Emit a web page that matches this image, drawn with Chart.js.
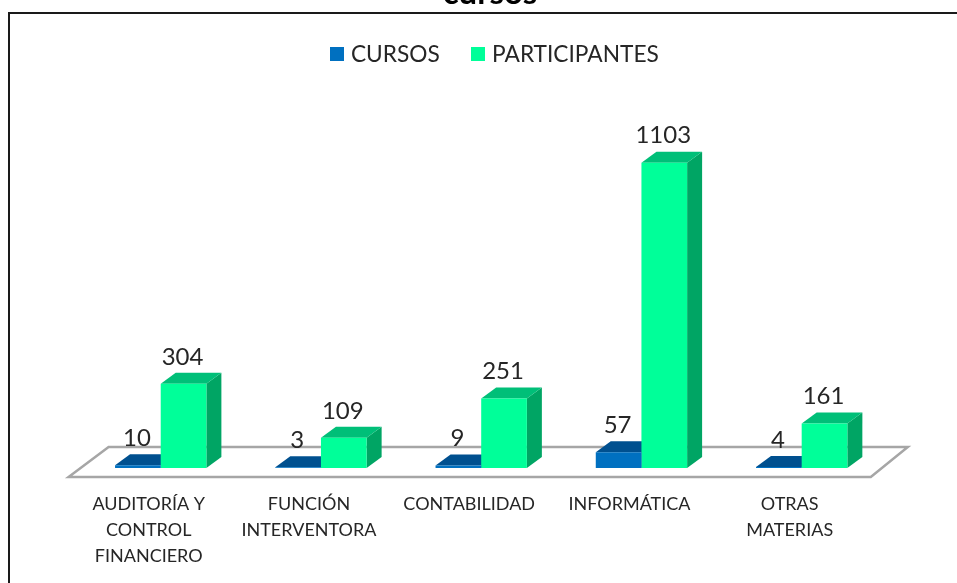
<!DOCTYPE html>
<html>
<head>
<meta charset="utf-8">
<script src="https://cdn.jsdelivr.net/npm/chart.js@4"></script>
<style>
  html, body { margin: 0; padding: 0; background: #fff; overflow: hidden; }
  canvas { display: block; }
</style>
</head>
<body>
<canvas id="myChart" width="957" height="583"></canvas>
<script>
const categories = [
    ['AUDITORÍA Y', 'CONTROL', 'FINANCIERO'],
    ['FUNCIÓN', 'INTERVENTORA'],
    'CONTABILIDAD',
    'INFORMÁTICA',
    ['OTRAS', 'MATERIAS']
];
const cursos = [10, 3, 9, 57, 4];
const participantes = [304, 109, 251, 1103, 161];
const titleText = 'cursos';

const textColor = '#262626';
const blue = '#0070c0';
const green = '#00ff99';
const depthX = 15;
const depthY = 11;

function face(ctx, points, color) {
    ctx.fillStyle = color;
    ctx.beginPath();
    points.forEach((p, i) => i ? ctx.lineTo(p[0], p[1]) : ctx.moveTo(p[0], p[1]));
    ctx.closePath();
    ctx.fill();
}

// legend box as an image, so it can sit closer to its text than the default gap
function swatch(color) {
    const c = document.createElement('canvas');
    c.width = 14;
    c.height = 14;
    const g = c.getContext('2d');
    g.fillStyle = color;
    g.fillRect(0, 0, 14, 14);
    return c;
}
const swatches = [swatch(blue), swatch(green)];

// frame, clipped title, floor and the side/top faces of the bars
const scene = {
    id: 'scene',
    afterLayout(chart) {
        chart.legend.left += 15;
        chart.legend.right += 15;
    },
    beforeDatasetsDraw(chart) {
        const ctx = chart.ctx;
        const xs = chart.scales.x;
        const base = chart.scales.y.getPixelForValue(0);
        ctx.save();

        ctx.strokeStyle = '#1a1a1a';
        ctx.lineWidth = 2;
        ctx.beginPath();
        ctx.moveTo(9, 583);
        ctx.lineTo(9, 13);
        ctx.lineTo(957, 13);
        ctx.stroke();

        ctx.fillStyle = '#000';
        ctx.font = 'bold 33px Lato';
        ctx.textAlign = 'center';
        ctx.textBaseline = 'alphabetic';
        ctx.fillText(titleText, 490, 4);

        ctx.strokeStyle = '#a6a6a6';
        ctx.lineWidth = 2.5;
        ctx.beginPath();
        ctx.moveTo(xs.left - 12, base + 9);
        ctx.lineTo(xs.left + 28, base - 21);
        ctx.lineTo(xs.right + 26, base - 21);
        ctx.lineTo(xs.right - 11, base + 9);
        ctx.closePath();
        ctx.stroke();

        const shades = [['#00508f', '#00508f'], ['#00bf78', '#00a564']];
        chart.data.datasets.forEach((ds, d) => {
            chart.getDatasetMeta(d).data.forEach(bar => {
                const l = bar.x - bar.width / 2;
                const r = bar.x + bar.width / 2;
                face(ctx, [[r, base], [r + depthX, base - depthY], [r + depthX, bar.y - depthY], [r, bar.y]], shades[d][1]);
                face(ctx, [[l, bar.y], [l + depthX, bar.y - depthY], [r + depthX, bar.y - depthY], [r, bar.y]], shades[d][0]);
            });
        });
        ctx.restore();
    },
    afterDatasetsDraw(chart) {
        const ctx = chart.ctx;
        ctx.save();
        ctx.fillStyle = textColor;
        ctx.font = '24px Lato';
        ctx.textAlign = 'center';
        ctx.textBaseline = 'middle';
        chart.data.datasets.forEach((ds, d) => {
            chart.getDatasetMeta(d).data.forEach((bar, i) => {
                ctx.fillText(ds.data[i], bar.x - 1, bar.y - 27);
            });
        });
        ctx.restore();
    }
};

const defaultLabels = Chart.defaults.plugins.legend.labels.generateLabels;

new Chart(document.getElementById('myChart').getContext('2d'), {
    type: 'bar',
    data: {
        labels: categories,
        datasets: [
            { label: 'CURSOS', data: cursos, backgroundColor: blue },
            { label: 'PARTICIPANTES', data: participantes, backgroundColor: green }
        ]
    },
    options: {
        responsive: false,
        animation: false,
        categoryPercentage: 0.57,
        barPercentage: 1,
        layout: { padding: { left: 80.6, right: 75.2, top: 8, bottom: 0 } },
        plugins: {
            legend: {
                position: 'top',
                labels: {
                    color: textColor,
                    font: { family: 'Lato', size: 22.7 },
                    usePointStyle: true,
                    boxWidth: 6,
                    padding: 35,
                    generateLabels: c => defaultLabels(c).map((it, i) => ({ ...it, pointStyle: swatches[i] }))
                }
            },
            tooltip: { enabled: false }
        },
        scales: {
            x: {
                grid: { display: false },
                border: { display: false },
                afterFit(scale) { scale.height = 115; },
                ticks: {
                    color: textColor,
                    font: { family: 'Lato', size: 18, lineHeight: 1.45 },
                    maxRotation: 0,
                    autoSkip: false,
                    labelOffset: -12,
                    padding: 15
                }
            },
            y: { display: false, min: 0, max: 1417 }
        }
    },
    plugins: [scene]
});
</script>
</body>
</html>
